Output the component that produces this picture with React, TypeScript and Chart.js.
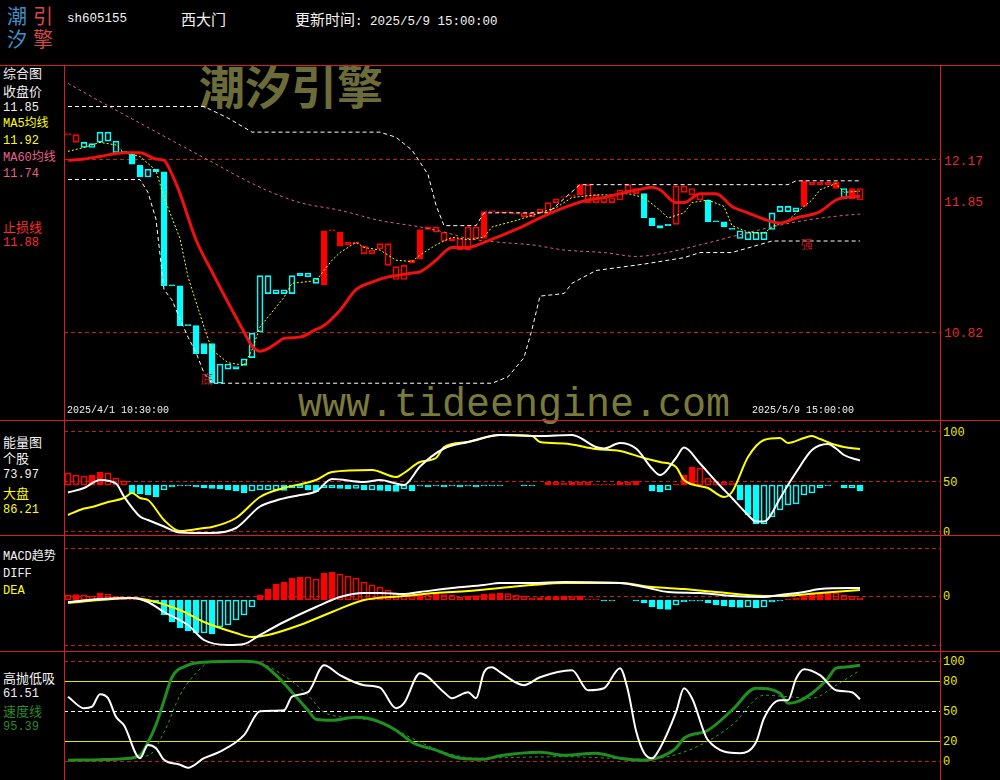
import React, { useEffect, useRef } from 'react';
import { Chart, registerables } from 'chart.js';

Chart.register(...registerables);

// ---------------- header texts ----------------
const stockCode = 'sh605155';
const stockName = '西大门';
const updateTime = '2025/5/9 15:00:00';
const firstBarLabel = '2025/4/1 10:30:00';
const lastBarLabel = '2025/5/9 15:00:00';

// ---------------- 60-minute K-line bars (100 bars) ----------------
const barOpen = [
  12.36, 12.36, 12.30, 12.26, 12.30, 12.38, 12.31, 12.23, 12.22, 12.12,
  12.03, 12.09, 12.07, 11.18, 11.18, 10.87, 10.87, 10.73, 10.73, 10.42,
  10.57, 10.53, 10.56, 10.62, 10.82, 11.26, 11.12, 11.15, 11.12, 11.26,
  11.28, 11.24, 11.19, 11.61, 11.49, 11.52, 11.52, 11.49, 11.46, 11.51,
  11.51, 11.33, 11.34, 11.38, 11.39, 11.64, 11.64, 11.60, 11.55, 11.55,
  11.64, 11.64, 11.55, 11.76, 11.76, 11.76, 11.75, 11.75, 11.75, 11.78,
  11.83, 11.86, 11.87, 11.89, 11.89, 11.97, 11.89, 11.87, 11.87, 11.93,
  11.97, 11.94, 11.90, 11.71, 11.65, 11.66, 11.96, 11.96, 11.94, 11.90,
  11.85, 11.68, 11.68, 11.63, 11.55, 11.54, 11.54, 11.54, 11.62, 11.76,
  11.76, 11.76, 11.80, 11.99, 11.99, 11.99, 11.94, 11.86, 11.86, 11.94,
];
const barClose = [
  12.36, 12.30, 12.26, 12.29, 12.38, 12.31, 12.22, 12.22, 12.13, 12.03,
  12.09, 12.07, 11.18, 11.18, 10.87, 10.87, 10.65, 10.65, 10.42, 10.57,
  10.53, 10.55, 10.61, 10.81, 11.26, 11.12, 11.15, 11.12, 11.26, 11.28,
  11.25, 11.20, 11.61, 11.61, 11.60, 11.50, 11.51, 11.43, 11.43, 11.47,
  11.34, 11.23, 11.23, 11.36, 11.62, 11.62, 11.60, 11.53, 11.53, 11.46,
  11.46, 11.55, 11.76, 11.76, 11.75, 11.75, 11.74, 11.72, 11.72, 11.75,
  11.75, 11.83, 11.87, 11.88, 11.97, 11.83, 11.83, 11.83, 11.83, 11.85,
  11.92, 11.90, 11.71, 11.65, 11.63, 11.65, 11.66, 11.91, 11.89, 11.85,
  11.68, 11.68, 11.64, 11.62, 11.61, 11.60, 11.60, 11.60, 11.75, 11.80,
  11.80, 11.79, 12.00, 11.97, 11.97, 11.97, 11.99, 11.94, 11.94, 11.85,
];
// bar state: 1 red solid, 2 red hollow, -1 cyan solid, -2 cyan hollow
const barSignal = [
  2, 2, -2, -2, -2, -2, -2, -2, -1, -1,
  -2, -2, -1, -1, -1, -1, -1, -1, -1, -2,
  -2, -2, -2, -2, -2, -2, -2, -2, -2, -2,
  -2, -2, 1, 2, 1, 2, 2, 2, 2, 2,
  2, 2, 2, 2, 1, 2, 2, 2, 2, 2,
  2, 2, 1, 2, 2, 2, 2, 2, 2, 2,
  2, 2, 2, 2, 1, 2, 2, 2, 2, 2,
  2, 2, -1, -1, -1, -1, 2, 2, 2, 2,
  -1, -1, -1, -1, -2, -2, -2, -2, -2, -2,
  -2, -2, 1, 2, 2, 2, 1, -2, 1, 2,
];

// [bar index, value] readings
const stopLine: [number, number][] = [
  [0, 12.16], [2, 12.17], [4, 12.19], [7, 12.22], [9, 12.22], [11, 12.17], [12, 12.16], [13, 12.05],
  [14, 11.90], [16, 11.54], [18, 11.29], [20, 11.05], [22, 10.82], [23, 10.71], [24, 10.67], [25, 10.69],
  [26, 10.73], [27, 10.77], [29, 10.78], [31, 10.84], [32, 10.87], [34, 10.99], [36, 11.15], [38, 11.21],
  [40, 11.25], [41, 11.26], [43, 11.28], [44, 11.29], [46, 11.38], [48, 11.48], [50, 11.48], [52, 11.52],
  [56, 11.62], [59, 11.71], [62, 11.79], [65, 11.85], [67, 11.87], [69, 11.90], [72, 11.94], [73, 11.95],
  [74, 11.93], [76, 11.83], [77, 11.83], [79, 11.90], [81, 11.90], [83, 11.80], [85, 11.75], [88, 11.68],
  [89, 11.67], [91, 11.71], [94, 11.76], [96, 11.85], [97, 11.87], [99, 11.88],
];
const ma5Line: [number, number][] = [
  [0, 12.23], [2, 12.26], [4, 12.30], [6, 12.28], [7, 12.22], [9, 12.19], [11, 12.08], [12, 11.87],
  [14, 11.55], [15, 11.25], [17, 10.86], [18, 10.68], [20, 10.58], [22, 10.56], [23, 10.68], [24, 10.86],
  [27, 11.09], [28, 11.20], [31, 11.22], [33, 11.38], [34, 11.44], [36, 11.52], [37, 11.48], [39, 11.46],
  [41, 11.38], [43, 11.37], [44, 11.42], [46, 11.50], [48, 11.56], [50, 11.54], [52, 11.56], [53, 11.64],
  [56, 11.69], [58, 11.73], [61, 11.79], [63, 11.87], [66, 11.89], [68, 11.89], [70, 11.90], [72, 11.87],
  [74, 11.77], [75, 11.71], [77, 11.75], [78, 11.83], [80, 11.85], [82, 11.80], [83, 11.65], [85, 11.60],
  [87, 11.59], [88, 11.64], [90, 11.69], [91, 11.75], [93, 11.85], [94, 11.93], [96, 11.98], [97, 11.91],
  [99, 11.92],
];
const ma60Line: [number, number][] = [
  [0, 12.76], [4, 12.62], [9, 12.45], [17, 12.18], [24, 11.95], [29, 11.83], [34, 11.77], [39, 11.69],
  [44, 11.64], [47, 11.60], [50, 11.55], [54, 11.52], [58, 11.50], [62, 11.46], [67, 11.44], [71, 11.41],
  [74, 11.43], [79, 11.50], [84, 11.58], [88, 11.64], [92, 11.69], [97, 11.73], [99, 11.74],
];
const upperBand: [number, number][] = [
  [0, 12.58], [17, 12.58], [20, 12.49], [23, 12.38], [39, 12.38], [41, 12.34], [43, 12.24], [45, 12.05],
  [46, 11.81], [47, 11.65], [51, 11.65], [52, 11.75], [60, 11.75], [64, 11.97], [90, 11.97], [91, 12.00],
  [99, 12.00],
];
const lowerBand: [number, number][] = [
  [0, 12.01], [9, 12.01], [10, 11.91], [11, 11.70], [12, 11.15], [13, 11.07], [14, 10.92], [15, 10.78],
  [16, 10.66], [17, 10.50], [18, 10.42], [53, 10.42], [55, 10.47], [57, 10.62], [58, 10.84], [59, 11.10],
  [62, 11.12], [63, 11.20], [66, 11.30], [72, 11.35], [77, 11.40], [79, 11.44], [83, 11.44], [88, 11.53],
  [99, 11.53],
];
const signalBars = [17, 92];
const signalTexts = ['底', '强'];
const signalPrices = [10.45, 11.50];
const priceTicks = [12.17, 11.85, 10.82];
const priceGrid = [12.17, 10.82];

// ---------------- 能量图 ----------------
const stockEnergy: [number, number][] = [
  [0, 38], [2, 42.5], [4, 50.5], [6, 47], [7, 34], [9, 14], [10, 10.5], [12, 4], [14, -2], [18, -2.5],
  [21, 2.5], [24, 24], [26, 30], [29, 35.5], [31, 39], [33, 51.5], [37, 48.5], [39, 50.5], [42, 45.5],
  [44, 64], [47, 82], [50, 88.5], [54, 95.5], [59, 94.5], [63, 95.5], [66, 83.5], [67, 82], [69, 87.5],
  [71, 82], [73, 62], [74, 55.5], [76, 72.5], [77, 83], [79, 67], [81, 49], [83, 32.5], [85, 15.5],
  [86, 9], [87, 9], [89, 32], [90, 45.5], [91, 58], [93, 80.5], [95, 86.5], [96, 82], [97, 75.5], [99, 70],
];
const marketEnergy: [number, number][] = [
  [0, 15.5], [2, 22], [3, 23.5], [5, 28.5], [7, 32.5], [8, 37.5], [9, 32.5], [10, 30.5], [12, 10.5],
  [14, -0.5], [17, 2.5], [18, 3.5], [21, 12.5], [24, 33.5], [27, 42.5], [31, 50.5], [33, 58.5], [38, 60.5],
  [41, 53.5], [42, 57.5], [44, 68.5], [46, 72.5], [47, 83.5], [50, 88.5], [54, 95.5], [58, 94.5], [59, 88.5],
  [62, 87], [66, 81.5], [69, 79.5], [72, 72.5], [74, 68.5], [76, 63.5], [77, 50.5], [80, 42.5], [82, 33.5],
  [83, 38.5], [85, 73.5], [87, 90.5], [89, 92.5], [90, 87.5], [92, 92.5], [93, 94.5], [94, 91.5], [96, 85.5],
  [97, 83.5], [99, 81.5],
];
const energyHist = [
  12, 10, 9, 10, 13, 12, 7, 4, -8, -9,
  -10, -12, -5, -2, -1, -1, -2, -3, -3.5, -4,
  -5, -6, -8, -6, -5, -5, -5, -5.5, -3, -3,
  -5, -7, -3, -3, -3.5, -4, -3.5, -5, -5, -5.5,
  -6, -6.5, -4, -6, -1, -2, -1, -2, -1, -2,
  -1, -2, -1, -1, -1, 0, 0, -1, -1, 0,
  3, 3, 2, 3, 3, 3, 1, 1, 1, 3,
  3, 4, 0, -6, -7, -5, 1, 10, 18, 17,
  7, 4, 3, 2, -15, -30, -39, -39, -32, -25,
  -20, -19, -10, -8, -3, -1, 0, -3, -3, -6,
];
const energyTicks = [100, 50, 0];

// ---------------- MACD趋势 ----------------
const diffLine: [number, number][] = [
  [0, -6], [4, -3], [8, -2], [10, -6], [12, -16], [15, -29], [17, -44], [20, -49], [22, -48], [24, -39],
  [27, -26], [31, -11], [34, -1], [37, 3], [39, 3], [42, 2], [44, 4], [48, 8], [52, 11], [54, 13], [58, 13],
  [62, 14], [69, 13], [72, 9], [75, 4], [79, 3], [83, 0], [87, -1], [89, 1], [92, 4], [94, 7], [99, 8],
];
const deaLine: [number, number][] = [
  [0, -7], [4, -4], [8, -2], [10, -4], [14, -14], [17, -26], [21, -37], [23, -41], [25, -39], [29, -29],
  [33, -16], [37, -4], [42, 0], [46, 3], [50, 5], [54, 8], [58, 11], [62, 13], [69, 13], [73, 9], [77, 7],
  [81, 4], [87, 0], [89, 0], [94, 3], [99, 6],
];
const macdHist = [
  5, 5.5, 5, 4, 7, 6, 4, 2, 1, 0,
  -2, -3, -15, -22, -28, -31, -33, -33, -34, -27,
  -25, -20, -15, -7, 5, 11, 16, 18, 22, 23,
  23, 21, 27, 28, 26, 24, 22, 18, 15, 13,
  10, 7, 5, 4, 5, 5, 6, 5.5, 5, 3,
  4, 4.5, 6, 6.5, 7, 6.5, 5, 4, 2, 2.5,
  3, 3.5, 4, 3.5, 4, 1, 1, -1, -1, 0,
  0, -1, -3, -7, -9, -9.5, -5, -2, -1, -1,
  -3, -5, -6, -7, -7.5, -7, -8, -7, -2, -1,
  1, 2, 4, 6, 7, 7.5, 7, 5, 4, 2,
];
const macdTicks = [0];

// ---------------- 高抛低吸 ----------------
const swingLine: [number, number][] = [
  [0, 64], [2, 52.5], [3, 54], [4, 66.5], [5, 62.5], [6, 44], [7, 35.5], [9, 2.5], [10, 15.7], [11, 12.5],
  [12, 1], [14, -4], [15, -7], [17, 2.5], [19, 9], [22, 25.5], [24, 49.5], [27, 50.5], [28, 64], [30, 68.5],
  [32, 95.5], [34, 85.5], [37, 75.5], [39, 73], [41, 52.5], [42, 57.5], [44, 87.5], [47, 68.5], [48, 62.5],
  [50, 68.5], [51, 62.5], [52, 88.5], [53, 93.5], [54, 88.5], [57, 75.5], [59, 83.5], [63, 90.5], [65, 70.5],
  [67, 72.5], [69, 92.5], [70, 70], [71, 30], [72, 8], [73, 2.5], [74, 12.5], [76, 48.5], [77, 72.5],
  [78, 62.5], [80, 20.5], [84, 7.5], [86, 18.5], [87, 42.5], [89, 60.5], [90, 60.5], [91, 82], [92, 91.5],
  [94, 85.5], [96, 70.5], [98, 68.5], [99, 61.5],
];
const speedLine: [number, number][] = [
  [0, 0.5], [4, 1], [7, 2], [9, 5.5], [10, 18.5], [11, 36], [12, 60], [13, 83.5], [15, 95.5], [17, 98.5],
  [22, 99.5], [24, 97.5], [26, 85.5], [28, 68.5], [30, 50.5], [31, 41.5], [33, 40.5], [36, 43.5], [38, 41.5],
  [41, 30.5], [43, 18.5], [46, 10.5], [49, 2.5], [52, 1.5], [54, 5], [59, 8.5], [62, 5.5], [66, 7.5],
  [69, 2.5], [72, 0.5], [74, 3.5], [76, 12.5], [77, 22.5], [80, 30.5], [83, 50.5], [86, 72.5], [89, 67.5],
  [90, 57.5], [91, 58.5], [93, 67.5], [95, 82.5], [96, 92.5], [97, 93.5], [99, 95.4],
];
const speedSignal: [number, number][] = [
  [0, 0.5], [10, 5], [12, 28.5], [14, 65.5], [16, 87.5], [18, 99], [23, 99], [27, 85], [30, 65.5],
  [32, 48.5], [36, 42.5], [39, 38.5], [43, 22.5], [47, 8.5], [51, 2.5], [54, 3], [62, 4], [72, 1.5],
  [75, 4], [79, 15.5], [83, 35.5], [87, 65.5], [90, 64], [93, 62.5], [96, 75.5], [99, 90.5],
];
const swingTicks = [100, 80, 50, 20, 0];

// ---------------- layout / style ----------------
const PLOT_LEFT = 64;
const PLOT_RIGHT = 940;
const PLOT_W = PLOT_RIGHT - PLOT_LEFT;
const X_MIN = -0.5;
const X_MAX = 109;

const RED = '#ff0000';
const CYAN = '#00ffff';
const YELLOW = '#ffff00';
const PINK = '#d8608a';
const GRID_RED = '#c41c1c';
const BORDER_RED = '#d42020';
const GREEN = '#1f8f1f';
const CLEAR = 'rgba(0,0,0,0)';
const MONO = "'Liberation Mono', 'Noto Sans CJK SC', monospace";
const CJK = "'Noto Sans CJK SC', sans-serif";

const MAIN = { top: 65, h: 355, min: 10.133, max: 12.904 };
const ENERGY = { top: 420, h: 115, min: -4.5, max: 110.5, hMin: -50, hMax: 65 };
const MACD = { top: 535, h: 116, min: -55, max: 61, hMin: -51, hMax: 65 };
const SWING = { top: 651, h: 129, min: -19.3, max: 109.7 };

const toPx = (p: { top: number; h: number; min: number; max: number }, v: number) =>
  p.top + ((p.max - v) / (p.max - p.min)) * p.h;

const pairs = (a: [number, number][]) => a.map(([x, y]) => ({ x, y }));

const lineDs = (data: [number, number][], color: string, width: number, extra: any = {}) => ({
  type: 'line',
  data: pairs(data),
  borderColor: color,
  borderWidth: width,
  pointRadius: 0,
  fill: false,
  cubicInterpolationMode: 'monotone',
  ...extra,
});

const histDs = (vals: number[], axis: string) => ({
  type: 'bar',
  yAxisID: axis,
  data: vals.map((v, i) => ({ x: i, y: v })),
  backgroundColor: vals.map((v, i) => {
    const prev = i === 0 ? v : vals[i - 1];
    const grow = v >= 0 ? v > prev : v < prev;
    return grow ? (v >= 0 ? RED : CYAN) : CLEAR;
  }),
  borderColor: vals.map((v) => (v >= 0 ? RED : CYAN)),
  borderWidth: 1,
  borderSkipped: false,
  barThickness: 6,
  order: 9,
});

function refLines(lines: { v: number; color: string; dash: number[] }[]) {
  return {
    id: 'refLines',
    beforeDatasetsDraw(chart: any) {
      const { ctx, chartArea } = chart;
      ctx.save();
      ctx.lineWidth = 1;
      for (const l of lines) {
        const y = Math.round(chart.scales.y.getPixelForValue(l.v)) + 0.5;
        ctx.strokeStyle = l.color;
        ctx.setLineDash(l.dash);
        ctx.beginPath();
        ctx.moveTo(chartArea.left, y);
        ctx.lineTo(chartArea.right, y);
        ctx.stroke();
      }
      ctx.restore();
    },
  };
}

const signalPlugin = {
  id: 'signalText',
  afterDatasetsDraw(chart: any) {
    const { ctx } = chart;
    ctx.save();
    ctx.font = `12px ${CJK}`;
    ctx.fillStyle = '#d81818';
    ctx.textAlign = 'center';
    ctx.textBaseline = 'middle';
    signalBars.forEach((b, k) => {
      ctx.fillText(signalTexts[k], chart.scales.x.getPixelForValue(b) + 3, chart.scales.y.getPixelForValue(signalPrices[k]));
    });
    ctx.restore();
  },
};

function baseOptions(min: number, max: number, extraScales: any = {}) {
  return {
    responsive: false,
    animation: false,
    events: [],
    layout: { padding: 0 },
    plugins: { legend: { display: false }, tooltip: { enabled: false } },
    scales: {
      x: { type: 'linear', min: X_MIN, max: X_MAX, display: false, offset: false },
      y: { type: 'linear', min, max, display: false },
      ...extraScales,
    },
  };
}

const mainConfig = () => ({
  type: 'bar',
  data: {
    datasets: [
      lineDs(stopLine, '#f01010', 3, { order: 0 }),
      lineDs(ma5Line, YELLOW, 1, { order: 1, borderDash: [2, 2], cubicInterpolationMode: 'default', tension: 0 }),
      lineDs(ma60Line, PINK, 1, { order: 2, borderDash: [3, 3] }),
      lineDs(upperBand, '#ffffff', 1, { order: 3, borderDash: [4, 3], cubicInterpolationMode: 'default', tension: 0 }),
      lineDs(lowerBand, '#ffffff', 1, { order: 3, borderDash: [4, 3], cubicInterpolationMode: 'default', tension: 0 }),
      {
        type: 'bar',
        data: barOpen.map((o, i) => ({ x: i, y: [o, barClose[i]] })),
        backgroundColor: barSignal.map((s) => (s === 1 ? RED : s === -1 ? CYAN : CLEAR)),
        borderColor: barSignal.map((s) => (s > 0 ? RED : CYAN)),
        borderWidth: 1,
        borderSkipped: false,
        barThickness: 6,
        minBarLength: 1,
        order: 8,
      },
    ],
  },
  options: baseOptions(MAIN.min, MAIN.max),
  plugins: [refLines(priceGrid.map((v) => ({ v, color: GRID_RED, dash: [4, 3] }))), signalPlugin],
});

const energyConfig = () => ({
  type: 'bar',
  data: {
    datasets: [
      lineDs(stockEnergy, '#ffffff', 2, { order: 0 }),
      lineDs(marketEnergy, YELLOW, 2, { order: 1 }),
      histDs(energyHist, 'yh'),
    ],
  },
  options: baseOptions(ENERGY.min, ENERGY.max, {
    yh: { type: 'linear', min: ENERGY.hMin, max: ENERGY.hMax, display: false },
  }),
  plugins: [refLines(energyTicks.map((v) => ({ v, color: GRID_RED, dash: [4, 3] })))],
});

const macdConfig = () => ({
  type: 'bar',
  data: {
    datasets: [
      lineDs(diffLine, '#ffffff', 2, { order: 0 }),
      lineDs(deaLine, YELLOW, 2, { order: 1 }),
      histDs(macdHist, 'yh'),
    ],
  },
  options: baseOptions(MACD.min, MACD.max, {
    yh: { type: 'linear', min: MACD.hMin, max: MACD.hMax, display: false },
  }),
  plugins: [refLines([48, 0, -49].map((v) => ({ v, color: GRID_RED, dash: [4, 3] })))],
});

const swingConfig = () => ({
  type: 'line',
  data: {
    datasets: [
      lineDs(swingLine, '#ffffff', 2, { order: 0 }),
      lineDs(speedLine, GREEN, 3, { order: 1 }),
      lineDs(speedSignal, '#2f9a2f', 1, { order: 2, borderDash: [3, 3] }),
    ],
  },
  options: baseOptions(SWING.min, SWING.max),
  plugins: [
    refLines([
      { v: 100, color: GRID_RED, dash: [4, 3] },
      { v: 0, color: GRID_RED, dash: [4, 3] },
      { v: 80, color: '#e6e600', dash: [] },
      { v: 20, color: '#e6e600', dash: [] },
      { v: 50, color: '#ffffff', dash: [4, 3] },
    ]),
  ],
});

function Panel({ top, height, config }: { top: number; height: number; config: () => any }) {
  const ref = useRef<HTMLCanvasElement | null>(null);
  useEffect(() => {
    const chart = new Chart(ref.current as HTMLCanvasElement, config());
    return () => chart.destroy();
  }, []);
  return (
    <canvas
      ref={ref}
      width={PLOT_W}
      height={height}
      style={{ position: 'absolute', left: PLOT_LEFT, top, width: PLOT_W, height, zIndex: 2 }}
    />
  );
}

function Txt({ x, y, size, color, font, children, z = 3, weight = 400 }: any) {
  const lh = size + 4;
  return (
    <div
      style={{
        position: 'absolute',
        left: x,
        top: y - lh / 2,
        fontSize: size,
        lineHeight: `${lh}px`,
        color,
        fontFamily: font,
        fontWeight: weight,
        whiteSpace: 'nowrap',
        zIndex: z,
      }}
    >
      {children}
    </div>
  );
}

const HLine = ({ y }: { y: number }) => (
  <div style={{ position: 'absolute', left: 0, top: y, width: 1000, height: 1, background: BORDER_RED, zIndex: 4 }} />
);
const VLine = ({ x }: { x: number }) => (
  <div style={{ position: 'absolute', left: x, top: 65, width: 1, height: 715, background: BORDER_RED, zIndex: 4 }} />
);

export default function App() {
  useEffect(() => {
    document.body.style.margin = '0';
    document.body.style.background = '#000';
  }, []);
  const WHITE = '#f2f2f2';
  const LRED = '#ff2a2a';
  const TEXT_GREEN = '#2a8a2a';
  return (
    <div style={{ position: 'fixed', left: 0, top: 0, width: 1000, height: 780, background: '#000', overflow: 'hidden' }}>
      {/* logo */}
      <Txt x={7} y={16} size={20} color="#3d8fc6" font={CJK}>潮</Txt>
      <Txt x={33} y={16} size={20} color="#d84848" font={CJK}>引</Txt>
      <Txt x={7} y={39} size={20} color="#3d8fc6" font={CJK}>汐</Txt>
      <Txt x={33} y={39} size={20} color="#d84848" font={CJK}>擎</Txt>
      {/* header */}
      <Txt x={67} y={19} size={12.5} color={WHITE} font={MONO}>{stockCode}</Txt>
      <Txt x={181} y={18.5} size={15} color={WHITE} font={CJK}>{stockName}</Txt>
      <div style={{ position: 'absolute', left: 295, top: 9, height: 20, lineHeight: '20px', color: WHITE, whiteSpace: 'nowrap', zIndex: 3 }}>
        <span style={{ fontFamily: CJK, fontSize: 15 }}>更新时间</span>
        <span style={{ fontFamily: MONO, fontSize: 12.5 }}>{`: ${updateTime}`}</span>
      </div>

      {/* watermarks */}
      <Txt x={199} y={84} size={46} color="#6c6c3a" font={CJK} z={1} weight={700}>潮汐引擎</Txt>
      <Txt x={298} y={406} size={40} color="#7a7a3a" font={MONO} z={1}>www.tideengine.com</Txt>

      {/* charts */}
      <Panel top={MAIN.top} height={MAIN.h} config={mainConfig} />
      <Panel top={ENERGY.top} height={ENERGY.h} config={energyConfig} />
      <Panel top={MACD.top} height={MACD.h} config={macdConfig} />
      <Panel top={SWING.top} height={SWING.h} config={swingConfig} />

      {/* frame */}
      <HLine y={65} />
      <HLine y={420} />
      <HLine y={535} />
      <HLine y={651} />
      <VLine x={PLOT_LEFT} />
      <VLine x={PLOT_RIGHT} />

      {/* main panel legend */}
      <Txt x={3} y={72.5} size={13} color={WHITE} font={CJK}>综合图</Txt>
      <Txt x={3} y={90.5} size={13} color={WHITE} font={CJK}>收盘价</Txt>
      <Txt x={3} y={107.5} size={12} color={WHITE} font={MONO}>11.85</Txt>
      <Txt x={3} y={124} size={12} color={YELLOW} font={MONO}>MA5均线</Txt>
      <Txt x={3} y={140.5} size={12} color={YELLOW} font={MONO}>11.92</Txt>
      <Txt x={3} y={157.5} size={12} color="#e8608e" font={MONO}>MA60均线</Txt>
      <Txt x={3} y={174} size={12} color="#e8608e" font={MONO}>11.74</Txt>
      <Txt x={3} y={226} size={13} color={LRED} font={CJK}>止损线</Txt>
      <Txt x={3} y={243} size={12} color={LRED} font={MONO}>11.88</Txt>

      {/* energy legend */}
      <Txt x={3} y={441} size={13} color={WHITE} font={CJK}>能量图</Txt>
      <Txt x={3} y={457.5} size={13} color={WHITE} font={CJK}>个股</Txt>
      <Txt x={3} y={475} size={12} color={WHITE} font={MONO}>73.97</Txt>
      <Txt x={3} y={492} size={13} color={YELLOW} font={CJK}>大盘</Txt>
      <Txt x={3} y={510} size={12} color={YELLOW} font={MONO}>86.21</Txt>

      {/* MACD legend */}
      <Txt x={3} y={557} size={12} color={WHITE} font={MONO}>MACD趋势</Txt>
      <Txt x={3} y={573.5} size={12} color={WHITE} font={MONO}>DIFF</Txt>
      <Txt x={3} y={591} size={12} color={YELLOW} font={MONO}>DEA</Txt>

      {/* swing legend */}
      <Txt x={3} y={677} size={13} color={WHITE} font={CJK}>高抛低吸</Txt>
      <Txt x={3} y={693.5} size={12} color={WHITE} font={MONO}>61.51</Txt>
      <Txt x={3} y={710} size={13} color={TEXT_GREEN} font={CJK}>速度线</Txt>
      <Txt x={3} y={727} size={12} color={TEXT_GREEN} font={MONO}>95.39</Txt>

      {/* date labels */}
      <Txt x={67} y={411} size={10} color={WHITE} font={MONO} z={5}>{firstBarLabel}</Txt>
      <Txt x={752} y={411} size={10} color={WHITE} font={MONO} z={5}>{lastBarLabel}</Txt>

      {/* right axes */}
      {priceTicks.map((v) => (
        <Txt key={`p${v}`} x={944} y={toPx(MAIN, v) + 2} size={13} color="#e02a2a" font={MONO}>{v.toFixed(2)}</Txt>
      ))}
      {energyTicks.map((v) => (
        <Txt key={`e${v}`} x={943} y={toPx(ENERGY, v) + 2} size={12} color="#e8e800" font={MONO}>{String(v)}</Txt>
      ))}
      {macdTicks.map((v) => (
        <Txt key={`m${v}`} x={943} y={toPx(MACD, v) + 1} size={12} color="#e8e800" font={MONO}>{String(v)}</Txt>
      ))}
      {swingTicks.map((v) => (
        <Txt key={`s${v}`} x={943} y={toPx(SWING, v) + 1.5} size={12} color="#e8e800" font={MONO}>{String(v)}</Txt>
      ))}
    </div>
  );
}
